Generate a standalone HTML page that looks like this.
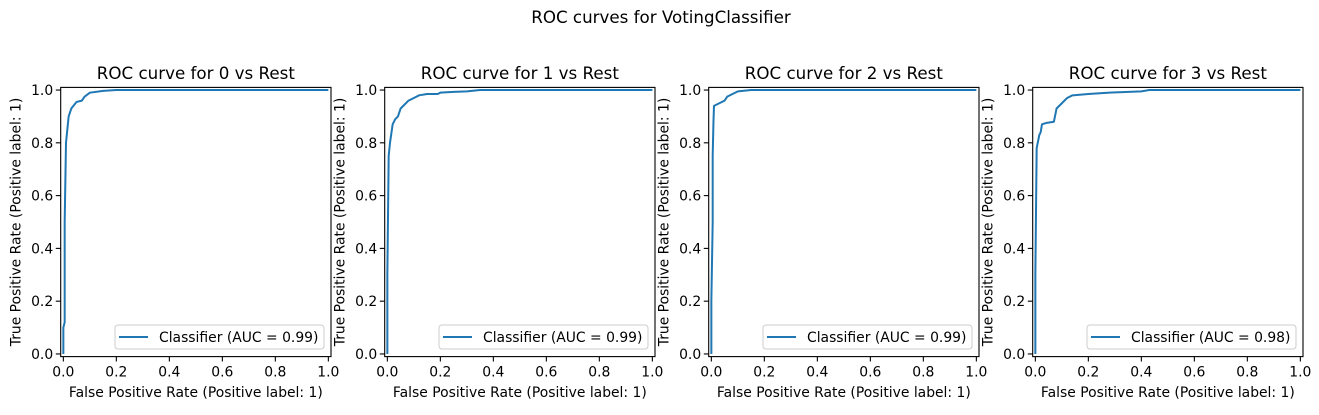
<!DOCTYPE html>
<html><head><meta charset="utf-8"><style>
body{margin:0;background:#fff;}
svg text{font-family:"DejaVu Sans","Liberation Sans",sans-serif;fill:#000;}
</style></head><body>
<svg id="fig" width="1319" height="410" viewBox="0 0 1319 410" xmlns="http://www.w3.org/2000/svg">
<rect width="1319" height="410" fill="#fff"/>
<text x="661" y="23" font-size="16.7" text-anchor="middle">ROC curves for VotingClassifier</text>
</svg>
<script>
const classLabels = ["0","1","2","3"];
const aucValues = ["0.99","0.99","0.99","0.98"];
const xTicks = [0,0.2,0.4,0.6,0.8,1.0];
const yTicks = [0,0.2,0.4,0.6,0.8,1.0];
const fpr0 = [0,0,0.005,0.005,0.01,0.02,0.03,0.05,0.07,0.08,0.1,0.15,0.2,1];
const tpr0 = [0,0.1,0.12,0.5,0.8,0.9,0.93,0.955,0.96,0.975,0.99,0.997,1,1];
const fpr1 = [0,0,0.005,0.01,0.02,0.03,0.04,0.05,0.06,0.08,0.1,0.12,0.15,0.19,0.2,0.25,0.3,0.35,1];
const tpr1 = [0,0.3,0.75,0.8,0.87,0.89,0.9,0.93,0.94,0.96,0.97,0.98,0.985,0.985,0.99,0.993,0.995,1,1];
const fpr2 = [0,0,0.005,0.005,0.008,0.01,0.03,0.05,0.06,0.08,0.1,0.15,1];
const tpr2 = [0,0.2,0.5,0.75,0.88,0.94,0.95,0.96,0.975,0.985,0.995,1,1];
const fpr3 = [0,0,0.005,0.015,0.02,0.025,0.04,0.07,0.08,0.1,0.12,0.14,0.2,0.28,0.4,0.43,1];
const tpr3 = [0,0.3,0.78,0.83,0.84,0.87,0.875,0.88,0.93,0.95,0.97,0.98,0.985,0.99,0.995,1,1];
const fprs=[fpr0,fpr1,fpr2,fpr3], tprs=[tpr0,tpr1,tpr2,tpr3];
const NS="http://www.w3.org/2000/svg", svg=document.getElementById('fig');
function el(t,a,p){const e=document.createElementNS(NS,t);for(const k in a)e.setAttribute(k,a[k]);(p||svg).appendChild(e);return e;}
for(let i=0;i<4;i++){
  const L=60.7+324*i, W=270.3, T=87.4, B=356.6;
  const sx=v=>L+(v+0.01)/1.02*W, sy=v=>B-(v+0.01)/1.02*(B-T);
  const g=el('g',{});
  
  
  const t=el('text',{x:L+W/2,y:79,'font-size':16.7,'text-anchor':'middle'},g);
  t.textContent='ROC curve for '+classLabels[i]+' vs Rest';
  
  
  xTicks.forEach(v=>{
    el('line',{x1:sx(v),x2:sx(v),y1:B,y2:B+4.9,stroke:'#000','stroke-width':1.1},g);
    const tx=el('text',{x:sx(v),y:B+20,'font-size':13.9,'text-anchor':'middle'},g);tx.textContent=v.toFixed(1);
    
    
  });
  yTicks.forEach(v=>{
    el('line',{x1:L-4.9,x2:L,y1:sy(v),y2:sy(v),stroke:'#000','stroke-width':1.1},g);
    const ty=el('text',{x:L-7.5,y:sy(v)+5,'font-size':13.9,'text-anchor':'end'},g);ty.textContent=v.toFixed(1);
    
    
  });
  const xl=el('text',{x:L+W/2,y:397,'font-size':13.9,'text-anchor':'middle'},g);
  xl.textContent='False Positive Rate (Positive label: 1)';
  
  
  const yl=el('text',{x:0,y:0,'font-size':13.9,'text-anchor':'middle',transform:`translate(${L-40},${(T+B)/2}) rotate(-90)`},g);
  yl.textContent='True Positive Rate (Positive label: 1)';
  
  
  const pts=fprs[i].map((x,j)=>sx(x).toFixed(2)+','+sy(tprs[i][j]).toFixed(2)).join(' ');
  const pl=el('polyline',{points:pts,fill:'none',stroke:'#1f77b4','stroke-width':2,'stroke-linejoin':'round'},g);
  
  
  el('rect',{x:L,y:T,width:W,height:B-T,fill:'none',stroke:'#000','stroke-width':1.1},g);
  const lg=el('g',{},g);
  
  
  const lx=L+W-216;
  el('rect',{x:lx,y:325,width:209,height:24,rx:3,fill:'#fff','fill-opacity':0.8,stroke:'#ccc','stroke-width':1},lg);
  el('line',{x1:lx+4,x2:lx+33,y1:337,y2:337,stroke:'#1f77b4','stroke-width':2},lg);
  const lt=el('text',{x:lx+44,y:342,'font-size':13.9},lg);
  lt.textContent='Classifier (AUC = '+aucValues[i]+')';
  
  
}
</script>
</body></html>
